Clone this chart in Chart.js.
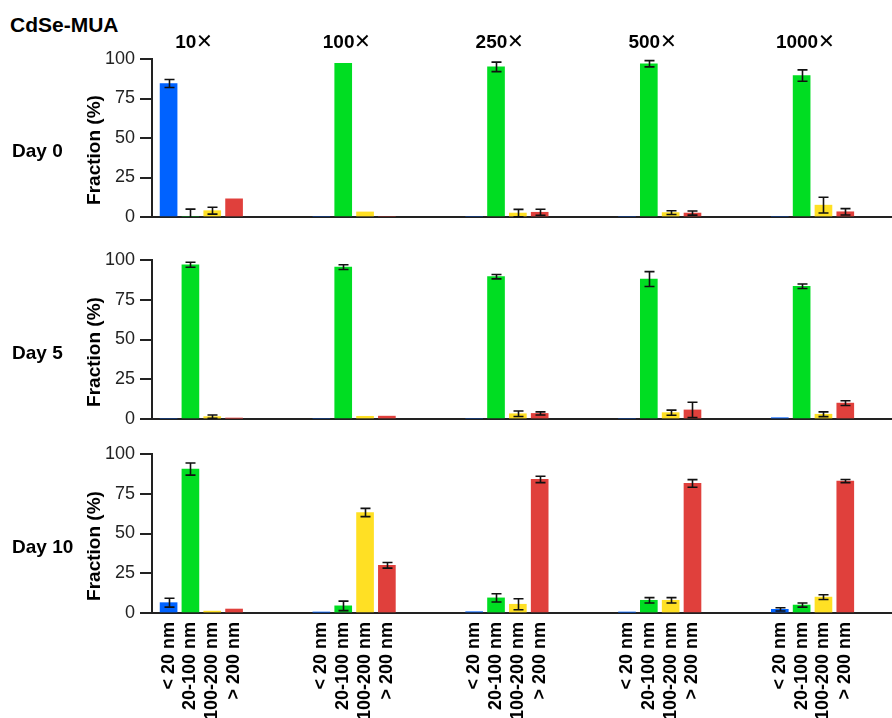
<!DOCTYPE html>
<html>
<head>
<meta charset="utf-8">
<script src="https://cdn.jsdelivr.net/npm/chart.js@4/dist/chart.umd.min.js"></script>
<style>
  body { margin: 0; background: #fff; width: 892px; height: 718px; overflow: hidden; position: relative;
         font-family: "Liberation Sans", Arial, sans-serif; }
  .lbl { position: absolute; font-weight: bold; line-height: 1; white-space: nowrap; color: #000; }
  .ytitle { position: absolute; font-weight: bold; line-height: 1; white-space: nowrap; color: #000;
            font-size: 19px; transform: translate(-50%, -50%) rotate(-90deg); }
  .group { position: absolute; font-weight: bold; line-height: 1; white-space: nowrap; color: #000;
           font-size: 19px; transform: translateX(-50%); }
  .group .times { font-weight: normal; font-size: 20px; }
  canvas { position: absolute; left: 0; }
</style>
</head>
<body>
<div class="lbl" style="left:10px;top:14px;font-size:21px">CdSe-MUA</div>
<canvas id="panel0" width="892" height="197" style="top:38px"></canvas>
<canvas id="panel1" width="892" height="198" style="top:239px"></canvas>
<canvas id="panel2" width="892" height="285" style="top:433px"></canvas>
<script>
// Size classes, dilutions and days
const sizeLabels = ['< 20 nm', '20-100 nm', '100-200 nm', '> 200 nm'];
const dilutionValues = ['10', '100', '250', '500', '1000'];
const timesSign = '\u2715';
const dayLabels = ['Day 0', 'Day 5', 'Day 10'];
const sizeColors = ['#0062ff', '#00dd22', '#ffe024', '#e0403c'];

// Fraction (%) per size class, one value per dilution
const day0Under20   = [84.5, 0, 0, 0, 0];
const day0From20    = [0, 97.2, 95, 97, 89.5];
const day0From100   = [4, 3.2, 2.5, 2.8, 7.5];
const day0Over200   = [11.5, 0, 3, 2.5, 3.3];
const day0Under20Err = [2.5, 0, 0, 0, 0];
const day0From20Err  = [5, 0, 3, 2, 3.6];
const day0From100Err = [2.2, 0, 2.3, 1.2, 5];
const day0Over200Err = [0, 0, 1.9, 1.3, 2];

const day5Under20   = [0, 0, 0, 0, 0.8];
const day5From20    = [97, 95.5, 89.5, 88, 83.5];
const day5From100   = [1.5, 1.7, 3.3, 4, 3];
const day5Over200   = [0.5, 1.8, 3.5, 5.7, 10];
const day5Under20Err = [0, 0, 0, 0, 0];
const day5From20Err  = [1.6, 1.5, 1.4, 4.7, 1.4];
const day5From100Err = [1, 0, 1.7, 1.6, 1.5];
const day5Over200Err = [0, 0, 1, 4.8, 1.5];

const day10Under20  = [6.5, 0.5, 0.8, 0.5, 2.3];
const day10From20   = [90.5, 4.5, 9.5, 8, 5];
const day10From100  = [1.2, 63.2, 5.5, 8, 10];
const day10Over200  = [2.5, 30, 84, 81.5, 83];
const day10Under20Err = [2.8, 0, 0, 0, 1];
const day10From20Err  = [3.8, 3, 2.6, 1.7, 1.3];
const day10From100Err = [0, 2.6, 3.5, 1.7, 1.5];
const day10Over200Err = [0, 1.8, 2, 2.4, 1];

const yTicks = [0, 25, 50, 75, 100];

const panels = [
  { values: [day0Under20, day0From20, day0From100, day0Over200],
    errors: [day0Under20Err, day0From20Err, day0From100Err, day0Over200Err] },
  { values: [day5Under20, day5From20, day5From100, day5Over200],
    errors: [day5Under20Err, day5From20Err, day5From100Err, day5Over200Err] },
  { values: [day10Under20, day10From20, day10From100, day10Over200],
    errors: [day10Under20Err, day10From20Err, day10From100Err, day10Over200Err] }
];

// bar slot on the linear x axis: 7 slots per dilution group
const GROUP_STEP = 7, FIRST_SLOT = 0.76, X_MAX = 33.9;
const slotOf = (g, s) => g * GROUP_STEP + FIRST_SLOT + s;
const tickSlots = [];
dilutionValues.forEach((_, g) => sizeLabels.forEach((_, s) => tickSlots.push(slotOf(g, s))));

const FONT = '"Liberation Sans", Arial, sans-serif';

// whiskers drawn through the chart's own scales
const errorBars = {
  id: 'errorBars',
  afterDatasetsDraw(chart) {
    const { ctx, scales: { x, y } } = chart;
    ctx.save();
    ctx.strokeStyle = '#111';
    ctx.lineWidth = 1.6;
    chart.data.datasets.forEach(ds => {
      ds.errors.forEach((e, j) => {
        if (!e) return;
        const p = ds.data[j];
        const px = Math.round(x.getPixelForValue(p.x)) + 0.5;
        const lowVal = Math.max(0, p.y - e);
        const yHi = y.getPixelForValue(p.y + e);
        const yLo = y.getPixelForValue(lowVal);
        ctx.beginPath();
        ctx.moveTo(px, yLo); ctx.lineTo(px, yHi);
        ctx.moveTo(px - 5, yHi); ctx.lineTo(px + 5, yHi);
        if (p.y - e > 0) { ctx.moveTo(px - 5, yLo); ctx.lineTo(px + 5, yLo); }
        ctx.stroke();
      });
    });
    ctx.restore();
  }
};

const charts = panels.map((panel, i) => {
  const last = i === panels.length - 1;
  return new Chart(document.getElementById('panel' + i), {
    type: 'bar',
    data: {
      datasets: sizeLabels.map((lab, s) => ({
        label: lab,
        data: panel.values[s].map((v, g) => ({ x: slotOf(g, s), y: v })),
        errors: panel.errors[s],
        backgroundColor: sizeColors[s],
        borderWidth: 0,
        barThickness: 17,
        grouped: false
      }))
    },
    options: {
      responsive: false,
      animation: false,
      devicePixelRatio: 1,
      layout: { padding: { top: 21, bottom: last ? 0 : 18, left: 0, right: 0 } },
      plugins: { legend: { display: false }, tooltip: { enabled: false } },
      scales: {
        x: {
          type: 'linear', min: 0, max: X_MAX, offset: false,
          grid: { display: false, drawTicks: false, offset: false },
          border: { display: true, color: '#222', width: 2 },
          ticks: {
            display: last, autoSkip: false, minRotation: 90, maxRotation: 90, padding: 9,
            color: '#000', font: { family: FONT, size: 18, weight: 'bold' },
            callback: (v, idx) => sizeLabels[idx % sizeLabels.length]
          },
          afterBuildTicks: sc => { sc.ticks = tickSlots.map(v => ({ value: v })); },
          afterFit: sc => { sc.height = last ? 105 : 0; }
        },
        y: {
          min: 0, max: 100,
          afterBuildTicks: sc => { sc.ticks = yTicks.map(v => ({ value: v })); },
          ticks: { padding: 5, color: '#222', font: { family: FONT, size: 18 } },
          grid: { drawOnChartArea: false, drawTicks: true, tickLength: 12, color: '#222', lineWidth: 2 },
          border: { display: true, color: '#222', width: 2 },
          afterFit: sc => { sc.width = 152; }
        }
      }
    },
    plugins: [errorBars]
  });
});

// panel labels: day names and rotated axis titles
charts.forEach((ch, i) => {
  const top = parseFloat(ch.canvas.style.top);
  const area = ch.chartArea;
  const mid = top + (area.top + area.bottom) / 2;
  const day = document.createElement('div');
  day.className = 'lbl';
  day.style.fontSize = '19px';
  day.style.left = '12px';
  day.style.top = (mid + 3) + 'px';
  day.textContent = dayLabels[i];
  document.body.appendChild(day);

  const yt = document.createElement('div');
  yt.className = 'ytitle';
  yt.style.left = '93px';
  yt.style.top = (mid + 12) + 'px';
  yt.textContent = 'Fraction (%)';
  document.body.appendChild(yt);
});

// dilution headers over the first panel
const first = charts[0];
const firstTop = parseFloat(first.canvas.style.top);
dilutionValues.forEach((val, g) => {
  const d = document.createElement('div');
  d.className = 'group';
  d.style.left = (first.scales.x.getPixelForValue(slotOf(g, 1.5)) - 7) + 'px';
  d.style.top = (firstTop + first.chartArea.top - 28) + 'px';
  d.append(val);
  const t = document.createElement('span');
  t.className = 'times';
  t.textContent = timesSign;
  d.appendChild(t);
  document.body.appendChild(d);
});
</script>
</body>
</html>
